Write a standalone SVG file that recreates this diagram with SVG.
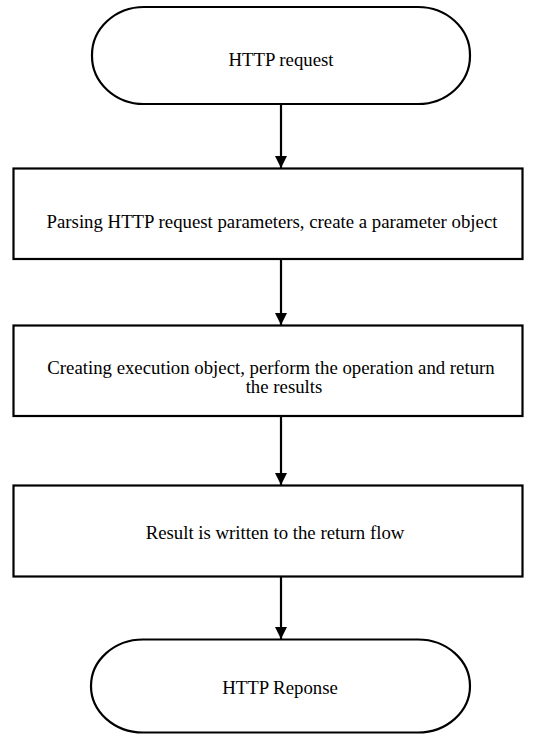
<svg xmlns="http://www.w3.org/2000/svg" width="536" height="735" viewBox="0 0 536 735">
<style>
.shape{fill:#fff;stroke:#000;stroke-width:2.2}
.lbl{font-family:"Liberation Serif","Times New Roman","DejaVu Serif",serif;font-size:18.8px;fill:#000;text-anchor:middle}
.conn{stroke:#000;stroke-width:2.2;fill:none}
</style>
<defs>
<marker id="ah" markerWidth="12" markerHeight="12" refX="12" refY="6" orient="auto" markerUnits="userSpaceOnUse">
<path d="M0,0 L12,6 L0,12 Z" fill="#000"/>
</marker>
</defs>
<rect width="536" height="735" fill="#fff"/>
<g id="start">
<rect class="shape" x="92" y="7" width="378" height="97" rx="52" ry="48"/>
<text class="lbl" font-family="Liberation Serif, serif" x="281" y="66">HTTP request</text>
</g>
<g id="parse">
<rect class="shape" x="13.5" y="168.5" width="509" height="90.5"/>
<text class="lbl" font-family="Liberation Serif, serif" x="272" y="228">Parsing HTTP request parameters, create a parameter object</text>
</g>
<g id="execute">
<rect class="shape" x="13.5" y="325.5" width="509" height="90.5"/>
<text class="lbl" font-family="Liberation Serif, serif" x="271" y="374">Creating execution object, perform the operation and return</text>
<text class="lbl" font-family="Liberation Serif, serif" x="284" y="393">the results</text>
</g>
<g id="write">
<rect class="shape" x="13.5" y="485.5" width="509" height="91"/>
<text class="lbl" font-family="Liberation Serif, serif" x="275" y="539">Result is written to the return flow</text>
</g>
<g id="end">
<rect class="shape" x="91" y="639.5" width="379" height="93" rx="52" ry="47"/>
<text class="lbl" font-family="Liberation Serif, serif" x="280" y="694">HTTP Reponse</text>
</g>
<g id="connectors">
<line class="conn" x1="281" y1="104" x2="281" y2="168" marker-end="url(#ah)"/>
<line class="conn" x1="281" y1="259" x2="281" y2="325" marker-end="url(#ah)"/>
<line class="conn" x1="281" y1="416" x2="281" y2="485" marker-end="url(#ah)"/>
<line class="conn" x1="281" y1="577" x2="281" y2="639" marker-end="url(#ah)"/>
</g>
</svg>
